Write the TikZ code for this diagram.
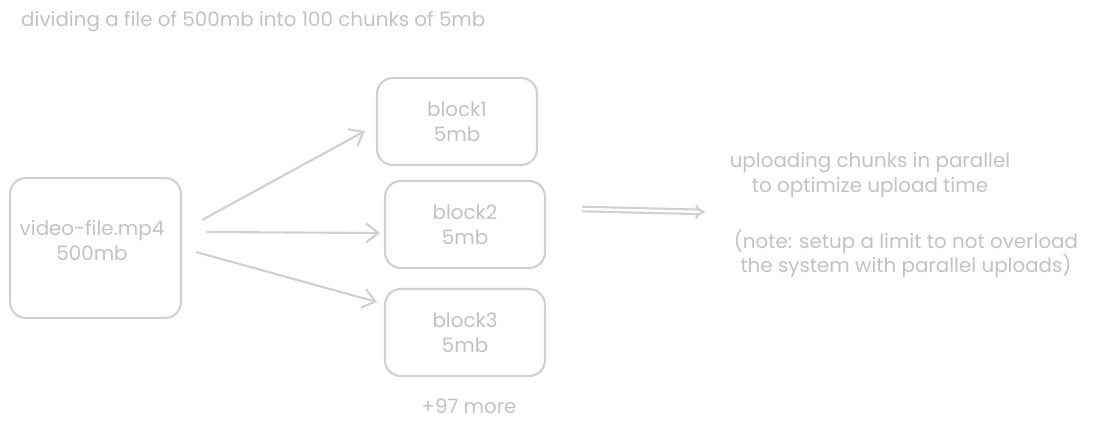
\documentclass[tikz,border=0pt]{standalone}
\usepackage{fontspec}
\setmainfont{Poppins}
\usetikzlibrary{arrows.meta}
\definecolor{sketch}{RGB}{208,208,208}
\definecolor{ink}{RGB}{194,194,194}
\tikzset{
  blk/.style={draw=sketch, line width=1.2pt, rounded corners=9pt, align=center, text=ink,
    font=\fontsize{11.3}{14}\selectfont},
  lbl/.style={align=center, text=ink, font=\fontsize{11.3}{14}\selectfont},
  arr/.style={draw=sketch, line width=1.2pt, -{Straight Barb[length=7pt,width=11pt]}},
}
\begin{document}
\begin{tikzpicture}[x=0.02cm,y=-0.02cm]
        \useasboundingbox (0,0) rectangle (1098,429);
        \node[lbl, anchor=west] (title) at (15,22) {dividing a file of 500mb into 100 chunks of 5mb};
        \node[blk, minimum width=3.42cm, minimum height=2.8cm] (vid) at (95.5,248) {};
        \node[lbl] (vidtxt) at (92,240.5) {video-file.mp4\\500mb};
        \node[blk, minimum width=3.2cm, minimum height=1.74cm] (b1) at (457,121.5) {block1\\5mb};
        \node[blk, minimum width=3.2cm, minimum height=1.74cm] (b2) at (465,224.5) {block2\\5mb};
        \node[blk, minimum width=3.2cm, minimum height=1.74cm] (b3) at (465,332.5) {block3\\5mb};
        \node[lbl] (more) at (469,406) {+97 more};
        \draw[arr] ([shift={(20,-28)}]vid.east) -- ([shift={(-11,9.5)}]b1.west);
        \draw[arr] ([shift={(25,-16)}]vid.east) -- ([shift={(-4,8.5)}]b2.west);
        \draw[arr] ([shift={(14,4)}]vid.east) -- ([shift={(-7,-30.5)}]b3.west);
        \node[lbl] (upl) at (870,175) {uploading chunks in parallel\\to optimize upload time};
        \node[lbl] (note) at (906,254) {(note: setup a limit to not overload\\the system with parallel uploads)};
        \coordinate (dstart) at (582,209);
        \coordinate (dend) at (705,212);
        \draw[draw=sketch, line width=1.2pt, double=white, double distance=1.4pt, -{Implies[length=6pt]}] (dstart) -- (dend);
    \end{tikzpicture}
\end{document}
